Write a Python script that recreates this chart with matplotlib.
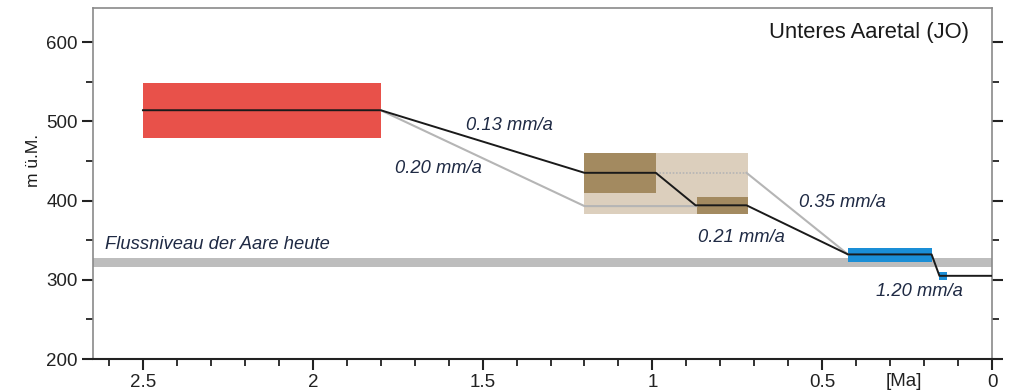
import matplotlib
matplotlib.use('Agg')
import matplotlib.pyplot as plt
from matplotlib.patches import Rectangle
from matplotlib.ticker import MultipleLocator

plt.rcParams['font.family'] = ['Liberation Sans', 'DejaVu Sans']

# terrace boxes: (age_old, age_young, elev_low, elev_high)
red_box = (2.5, 1.8, 479, 548)
tan_box = (1.2, 0.72, 383, 460)
brown_boxes = [(1.2, 0.99, 409, 460), (0.87, 0.72, 383, 405)]
blue_boxes = [(0.424, 0.178, 323, 340), (0.155, 0.134, 300, 310)]

# river level today
river_band = (316, 328)

# main incision path (black)
main_age = [2.5, 1.8, 1.2, 0.99, 0.873, 0.723, 0.424, 0.178, 0.155, 0.0]
main_elev = [514, 514, 435, 435, 394, 394, 332, 332, 305, 305]

# alternative paths (grey)
alt_low_age = [1.8, 1.2, 0.87]
alt_low_elev = [514, 393, 393]
alt_high_age = [0.723, 0.424]
alt_high_elev = [435, 332]
dotted_age = [0.99, 0.723]
dotted_elev = [435, 435]

# rate labels: (text, age, elevation)
rates = [("0.13 mm/a", 1.42, 495), ("0.20 mm/a", 1.63, 441),
         ("0.35 mm/a", 0.44, 398), ("0.21 mm/a", 0.737, 353),
         ("1.20 mm/a", 0.215, 285)]

fig = plt.figure(figsize=(10.12, 3.91), dpi=100)
ax = fig.add_axes([0.0919, 0.0818, 0.8884, 0.8977])
ax.set_xlim(2.647, 0)
ax.set_ylim(200, 643)

def box(b, color, z):
    x0, x1, y0, y1 = b
    ax.add_patch(Rectangle((x1, y0), x0 - x1, y1 - y0, facecolor=color,
                           edgecolor='none', zorder=z))

ax.axhspan(river_band[0], river_band[1], color='#bdbdbd', zorder=1, lw=0)
box(red_box, '#e8514a', 2)
box(tan_box, '#dccfbd', 2)
for b in brown_boxes:
    box(b, '#a38a60', 3)
for b in blue_boxes:
    box(b, '#1a8ed6', 3)

ax.plot(alt_low_age, alt_low_elev, color='#b5b5b5', lw=1.5, zorder=4)
ax.plot(alt_high_age, alt_high_elev, color='#b5b5b5', lw=1.5, zorder=4)
ax.plot(dotted_age, dotted_elev, color='#b5b5b5', lw=1.2, ls=(0, (1, 1)), zorder=4)
ax.plot(main_age, main_elev, color='#1a1a1a', lw=1.4, zorder=5)

txt_color = '#1f2a44'
for t, a, e in rates:
    ax.text(a, e, t, style='italic', fontsize=13.2, color=txt_color,
            ha='center', va='center', zorder=6)
ax.text(2.611, 345, "Flussniveau der Aare heute", style='italic', fontsize=13.2,
        color=txt_color, ha='left', va='center', zorder=6)
ax.text(0.068, 612, "Unteres Aaretal (JO)", fontsize=15.8, color='#1a1a1a',
        ha='right', va='center')

ax.set_ylabel("m ü.M.", fontsize=12.5, color='#1a1a1a')
ax.yaxis.set_label_coords(-0.058, 0.565)

ax.xaxis.set_major_locator(MultipleLocator(0.5))
ax.xaxis.set_minor_locator(MultipleLocator(0.1))
ax.yaxis.set_major_locator(MultipleLocator(100))
ax.yaxis.set_minor_locator(MultipleLocator(50))
ax.set_xticks([2.5, 2, 1.5, 1, 0.5, 0])
ax.set_xticklabels(["2.5", "2", "1.5", "1", "0.5", "0"])
ax.tick_params(axis='both', which='major', direction='out', length=8, width=1.5,
               labelsize=13.5, colors='#222222', pad=3)
ax.tick_params(axis='both', which='minor', direction='out', length=5, width=1.3,
               colors='#222222')
ax.tick_params(axis='y', which='both', right=True)
ax.text(0.26, -0.04, "[Ma]", transform=ax.get_xaxis_transform(), fontsize=13.5,
        color='#222222', ha='center', va='top')

for s in ['top', 'left', 'right']:
    ax.spines[s].set_color('#8a8a8a')
    ax.spines[s].set_linewidth(1.2)
ax.spines['bottom'].set_color('#222222')
ax.spines['bottom'].set_linewidth(1.5)

fig.savefig('out.png', dpi=100)
